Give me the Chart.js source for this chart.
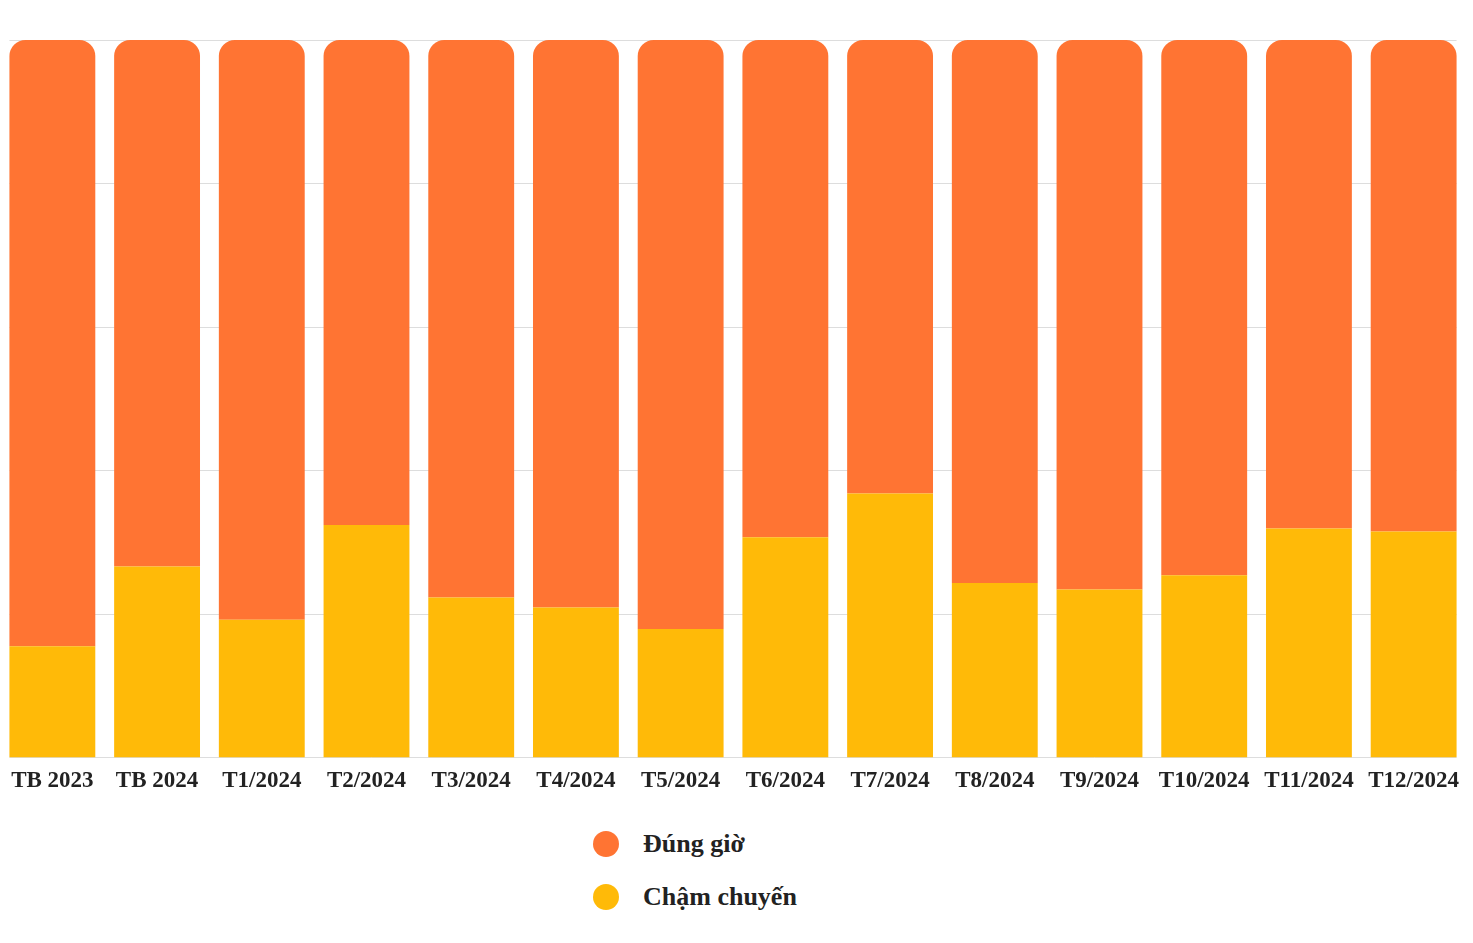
<!DOCTYPE html>
<html>
<head>
<meta charset="utf-8">
<script src="https://cdn.jsdelivr.net/npm/chart.js@4.4.1/dist/chart.umd.min.js"></script>
<style>
  body { margin: 0; background: #fff; }
  #wrap { position: relative; width: 1466px; height: 797px; }
  #legend { position: absolute; left: 593px; top: 817px; font-family: "Liberation Serif", "Times New Roman", serif; font-weight: bold; font-size: 26px; color: #222; }
  .item { display: flex; align-items: center; height: 53px; }
  .dot { width: 26px; height: 26px; border-radius: 50%; margin-right: 24px; }
</style>
</head>
<body>
<div id="wrap"><canvas id="canvas-Punctuality"></canvas></div>
<div id="legend"></div>
<script>
const labels = ["TB 2023", "TB 2024", "T1/2024", "T2/2024", "T3/2024", "T4/2024", "T5/2024",
  "T6/2024", "T7/2024", "T8/2024", "T9/2024", "T10/2024", "T11/2024", "T12/2024"];
// % chậm chuyến
const delayed = [15.5, 26.6, 19.2, 32.4, 22.3, 20.9, 17.9, 30.7, 36.8, 24.3, 23.4, 25.4, 31.9, 31.5];
const onTime = delayed.map((v) => Math.round((100 - v) * 10) / 10);
const seriesNames = ["Đúng giờ", "Chậm chuyến"];
const seriesColors = ["#FF7433", "#FFBA08"];

// grid lines only across the bars, like the original
const barGrid = {
  id: "barGrid",
  beforeDatasetsDraw(chart) {
    const bars = chart.getDatasetMeta(0).data;
    if (!bars.length) return;
    const left = bars[0].x - bars[0].width / 2;
    const last = bars[bars.length - 1];
    const right = last.x + last.width / 2;
    const y = chart.scales.y;
    const ctx = chart.ctx;
    ctx.save();
    ctx.strokeStyle = "#dddddd";
    ctx.lineWidth = 1;
    y.ticks.forEach((t) => {
      const py = Math.round(y.getPixelForValue(t.value)) + 0.5;
      ctx.beginPath();
      ctx.moveTo(left, py);
      ctx.lineTo(right, py);
      ctx.stroke();
    });
    ctx.restore();
  },
};

const ctx = document.getElementById("canvas-Punctuality").getContext("2d");
new Chart(ctx, {
  type: "bar",
  data: {
    labels: labels,
    datasets: [
      {
        label: seriesNames[1],
        data: delayed,
        backgroundColor: seriesColors[1],
        borderRadius: 0,
      },
      {
        label: seriesNames[0],
        data: onTime,
        backgroundColor: seriesColors[0],
        borderRadius: { topLeft: 16, topRight: 16, bottomLeft: 0, bottomRight: 0 },
        borderSkipped: false,
      },
    ],
  },
  options: {
    responsive: true,
    maintainAspectRatio: false,
    animation: false,
    layout: { padding: { top: 40, left: 0, right: 0, bottom: 0 } },
    plugins: { legend: { display: false }, tooltip: { enabled: false } },
    datasets: { bar: { categoryPercentage: 1, barPercentage: 0.82 } },
    scales: {
      x: {
        stacked: true,
        grid: { display: false },
        border: { display: false },
        ticks: {
          color: "#222",
          padding: 2,
          maxRotation: 0,
          autoSkip: false,
          font: { family: "'Liberation Serif', 'Times New Roman', serif", weight: "bold", size: 23 },
        },
      },
      y: {
        stacked: true,
        min: 0,
        max: 100,
        display: true,
        ticks: { display: false, stepSize: 20 },
        grid: { display: false, drawTicks: false },
        border: { display: false },
      },
    },
  },
  plugins: [barGrid],
});

const legend = document.getElementById("legend");
seriesNames.forEach((name, i) => {
  const row = document.createElement("div");
  row.className = "item";
  row.innerHTML = '<span class="dot" style="background:' + seriesColors[i] + '"></span>' + name;
  legend.appendChild(row);
});
</script>
</body>
</html>
